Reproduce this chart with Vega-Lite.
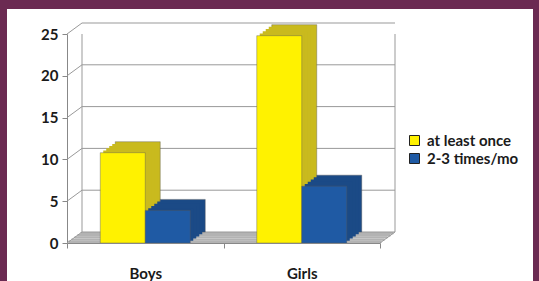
{
  "$schema": "https://vega.github.io/schema/vega-lite/v6.json",
  "autosize": "none",
  "width": 526,
  "height": 272,
  "padding": {"left": 7, "top": 9, "right": 6, "bottom": 0},
  "background": "#6B2A52",
  "config": {
    "view": {"fill": "white", "stroke": null},
    "font": "Lato",
    "axis": {"labelFont": "Lato", "labelFontWeight": "bold", "labelFontSize": 15, "labelColor": "#1a1a1a", "domainColor": "#888888", "tickColor": "#888888", "title": null, "grid": false},
    "legend": {"labelFont": "Lato", "labelFontWeight": "bold", "labelFontSize": 15, "labelColor": "#1a1a1a"}
  },
  "datasets": {
    "bars": [
      {"cat": "Boys", "series": "at least once", "val": 10.8},
      {"cat": "Boys", "series": "2-3 times/mo", "val": 3.9},
      {"cat": "Girls", "series": "at least once", "val": 24.8},
      {"cat": "Girls", "series": "2-3 times/mo", "val": 6.8}
    ],
    "grid": [{"v": 0}, {"v": 5}, {"v": 10}, {"v": 15}, {"v": 20}, {"v": 25}],
    "floor": [{"v": 0}]
  },
  "layer": [
    {
      "data": {"name": "floor"},
      "mark": {"type": "rect", "color": "#B3B3B3", "xOffset": 1.5, "x2Offset": 1.5, "yOffset": 0, "y2Offset": -2.4},
      "encoding": {
        "x": {"datum": "Boys", "bandPosition": 0, "type": "nominal", "scale": {"domain": ["Boys", "Girls"], "range": [60, 373], "paddingInner": 0, "paddingOuter": 0}},
        "x2": {"datum": "Girls", "bandPosition": 1},
        "y": {"field": "v", "type": "quantitative", "scale": {"domain": [0, 25], "range": [234, 25], "nice": false, "zero": true}},
        "y2": {"field": "v"}
      }
    },
    {
      "data": {"name": "floor"},
      "mark": {"type": "rect", "color": "#B3B3B3", "xOffset": 4.5, "x2Offset": 4.5, "yOffset": -2.2, "y2Offset": -4.6},
      "encoding": {"x": {"datum": "Boys", "bandPosition": 0, "type": "nominal"}, "x2": {"datum": "Girls", "bandPosition": 1}, "y": {"field": "v", "type": "quantitative"}, "y2": {"field": "v"}}
    },
    {
      "data": {"name": "floor"},
      "mark": {"type": "rect", "color": "#B3B3B3", "xOffset": 7.5, "x2Offset": 7.5, "yOffset": -4.4, "y2Offset": -6.8},
      "encoding": {"x": {"datum": "Boys", "bandPosition": 0, "type": "nominal"}, "x2": {"datum": "Girls", "bandPosition": 1}, "y": {"field": "v", "type": "quantitative"}, "y2": {"field": "v"}}
    },
    {
      "data": {"name": "floor"},
      "mark": {"type": "rect", "color": "#B3B3B3", "xOffset": 10.5, "x2Offset": 10.5, "yOffset": -6.6, "y2Offset": -9},
      "encoding": {"x": {"datum": "Boys", "bandPosition": 0, "type": "nominal"}, "x2": {"datum": "Girls", "bandPosition": 1}, "y": {"field": "v", "type": "quantitative"}, "y2": {"field": "v"}}
    },
    {
      "data": {"name": "floor"},
      "mark": {"type": "rect", "color": "#B3B3B3", "xOffset": 13.5, "x2Offset": 13.5, "yOffset": -8.8, "y2Offset": -11},
      "encoding": {"x": {"datum": "Boys", "bandPosition": 0, "type": "nominal"}, "x2": {"datum": "Girls", "bandPosition": 1}, "y": {"field": "v", "type": "quantitative"}, "y2": {"field": "v"}}
    },
    {
      "data": {"name": "grid"},
      "mark": {"type": "rule", "color": "#999999", "strokeWidth": 1, "xOffset": 15, "yOffset": -11, "x2Offset": 15, "y2Offset": -11},
      "encoding": {
        "x": {"datum": "Boys", "bandPosition": 0, "type": "nominal"},
        "x2": {"datum": "Girls", "bandPosition": 1},
        "y": {"field": "v", "type": "quantitative"}
      }
    },
    {
      "data": {"name": "grid"},
      "mark": {"type": "rule", "color": "#999999", "strokeWidth": 1, "x2Offset": 15, "y2Offset": -11},
      "encoding": {
        "x": {"datum": "Boys", "bandPosition": 0, "type": "nominal"},
        "x2": {"datum": "Boys", "bandPosition": 0},
        "y": {"field": "v", "type": "quantitative"},
        "y2": {"field": "v"}
      }
    },
    {
      "data": {"name": "floor"},
      "mark": {"type": "rule", "color": "#999999", "strokeWidth": 1, "xOffset": 0, "x2Offset": 15, "y2Offset": -11},
      "encoding": {
        "x": {"datum": "Girls", "bandPosition": 1, "type": "nominal"},
        "x2": {"datum": "Girls", "bandPosition": 1},
        "y": {"field": "v", "type": "quantitative"},
        "y2": {"field": "v"}
      }
    },
    {
      "data": {"name": "floor"},
      "mark": {"type": "rule", "color": "#999999", "strokeWidth": 1, "xOffset": 15, "yOffset": -11},
      "encoding": {
        "x": {"datum": "Boys", "bandPosition": 0, "type": "nominal"},
        "y": {"datum": 0, "type": "quantitative"},
        "y2": {"datum": 25}
      }
    },
    {
      "data": {"name": "floor"},
      "mark": {"type": "rule", "color": "#999999", "strokeWidth": 1, "xOffset": 15, "yOffset": -11},
      "encoding": {
        "x": {"datum": "Girls", "bandPosition": 1, "type": "nominal"},
        "y": {"datum": 0, "type": "quantitative"},
        "y2": {"datum": 25}
      }
    },
    {
      "layer": [
        {
          "data": {"name": "bars"},
          "mark": {"type": "bar", "yOffset": -11, "stroke": "#555555", "strokeWidth": 0.4},
          "encoding": {
            "x": {"field": "cat", "type": "nominal"},
            "xOffset": {"field": "series", "type": "nominal", "sort": null, "scale": {"domain": ["at least once", "2-3 times/mo"], "paddingInner": 0, "paddingOuter": 0.7389, "align": 0.7256}},
            "y": {"field": "val", "type": "quantitative"},
            "color": {"field": "series", "type": "nominal", "legend": null, "scale": {"domain": ["at least once", "2-3 times/mo"], "range": ["#C9BA1E", "#1B4A86"]}}
          }
        },
        {
          "data": {"name": "bars"},
          "mark": {"type": "bar", "yOffset": -8.8},
          "encoding": {
            "x": {"field": "cat", "type": "nominal"},
            "xOffset": {"field": "series", "type": "nominal", "sort": null, "scale": {"domain": ["at least once", "2-3 times/mo"], "paddingInner": 0, "paddingOuter": 0.7389, "align": 0.6805}},
            "y": {"field": "val", "type": "quantitative"},
            "color": {"field": "series", "type": "nominal", "legend": null, "scale": {"domain": ["at least once", "2-3 times/mo"], "range": ["#C9BA1E", "#1B4A86"]}}
          }
        },
        {
          "data": {"name": "bars"},
          "mark": {"type": "bar", "yOffset": -6.6},
          "encoding": {
            "x": {"field": "cat", "type": "nominal"},
            "xOffset": {"field": "series", "type": "nominal", "sort": null, "scale": {"domain": ["at least once", "2-3 times/mo"], "paddingInner": 0, "paddingOuter": 0.7389, "align": 0.6353}},
            "y": {"field": "val", "type": "quantitative"},
            "color": {"field": "series", "type": "nominal", "legend": null, "scale": {"domain": ["at least once", "2-3 times/mo"], "range": ["#C9BA1E", "#1B4A86"]}}
          }
        },
        {
          "data": {"name": "bars"},
          "mark": {"type": "bar", "yOffset": -4.4},
          "encoding": {
            "x": {"field": "cat", "type": "nominal"},
            "xOffset": {"field": "series", "type": "nominal", "sort": null, "scale": {"domain": ["at least once", "2-3 times/mo"], "paddingInner": 0, "paddingOuter": 0.7389, "align": 0.5902}},
            "y": {"field": "val", "type": "quantitative"},
            "color": {"field": "series", "type": "nominal", "legend": null, "scale": {"domain": ["at least once", "2-3 times/mo"], "range": ["#C9BA1E", "#1B4A86"]}}
          }
        },
        {
          "data": {"name": "bars"},
          "mark": {"type": "bar", "yOffset": -2.2},
          "encoding": {
            "x": {"field": "cat", "type": "nominal"},
            "xOffset": {"field": "series", "type": "nominal", "sort": null, "scale": {"domain": ["at least once", "2-3 times/mo"], "paddingInner": 0, "paddingOuter": 0.7389, "align": 0.5451}},
            "y": {"field": "val", "type": "quantitative"},
            "color": {"field": "series", "type": "nominal", "legend": null, "scale": {"domain": ["at least once", "2-3 times/mo"], "range": ["#C9BA1E", "#1B4A86"]}}
          }
        },
        {
          "data": {"name": "bars"},
          "mark": {"type": "bar", "stroke": "#555555", "strokeWidth": 0.4},
          "encoding": {
            "x": {"field": "cat", "type": "nominal", "axis": {"orient": "bottom", "offset": -38, "tickBand": "extent", "tickSize": 5, "labelPadding": 18, "labelAngle": 0, "labelAlign": "center", "labelBaseline": "top", "labelDx": 3}},
            "xOffset": {"field": "series", "type": "nominal", "sort": null, "scale": {"domain": ["at least once", "2-3 times/mo"], "paddingInner": 0, "paddingOuter": 0.7389, "align": 0.5}},
            "y": {"field": "val", "type": "quantitative", "axis": {"orient": "left", "offset": -60, "values": [0, 5, 10, 15, 20, 25], "tickSize": 5, "labelPadding": 4}},
            "color": {"field": "series", "type": "nominal", "scale": {"domain": ["at least once", "2-3 times/mo"], "range": ["#FFF200", "#1F5AA4"]},
              "legend": {"orient": "none", "legendX": 400, "legendY": 124, "title": null, "symbolType": "square", "symbolSize": 100, "symbolStrokeColor": "#222222", "symbolStrokeWidth": 1, "rowPadding": 2, "labelOffset": 5}}
          }
        }
      ],
      "resolve": {"scale": {"color": "independent", "xOffset": "independent"}}
    }
  ]
}
